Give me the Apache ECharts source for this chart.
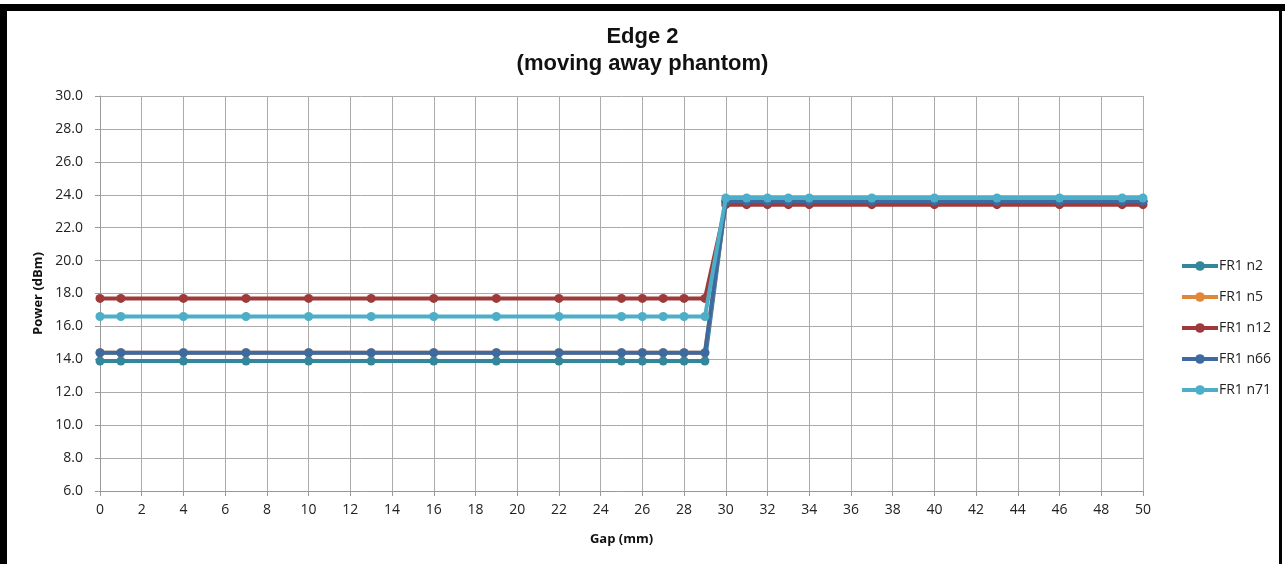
<!DOCTYPE html>
<html>
<head>
<meta charset="utf-8">
<script src="https://cdn.jsdelivr.net/npm/echarts@6/dist/echarts.min.js"></script>
<style>
html,body{margin:0;padding:0;background:#fff;}
#chart{width:1285px;height:564px;}
</style>
</head>
<body>
<div id="chart"></div>
<script>
const gaps = [0,1,4,7,10,13,16,19,22,25,26,27,28,29,30,31,32,33,34,37,40,43,46,49,50];
const seriesNames = ['FR1 n2','FR1 n5','FR1 n12','FR1 n66','FR1 n71'];
const n2  = [13.9,13.9,13.9,13.9,13.9,13.9,13.9,13.9,13.9,13.9,13.9,13.9,13.9,13.9,23.6,23.6,23.6,23.6,23.6,23.6,23.6,23.6,23.6,23.6,23.6];
const n5  = [14.4,14.4,14.4,14.4,14.4,14.4,14.4,14.4,14.4,14.4,14.4,14.4,14.4,14.4,23.6,23.6,23.6,23.6,23.6,23.6,23.6,23.6,23.6,23.6,23.6];
const n12 = [17.7,17.7,17.7,17.7,17.7,17.7,17.7,17.7,17.7,17.7,17.7,17.7,17.7,17.7,23.4,23.4,23.4,23.4,23.4,23.4,23.4,23.4,23.4,23.4,23.4];
const n66 = [14.4,14.4,14.4,14.4,14.4,14.4,14.4,14.4,14.4,14.4,14.4,14.4,14.4,14.4,23.6,23.6,23.6,23.6,23.6,23.6,23.6,23.6,23.6,23.6,23.6];
const n71 = [16.6,16.6,16.6,16.6,16.6,16.6,16.6,16.6,16.6,16.6,16.6,16.6,16.6,16.6,23.8,23.8,23.8,23.8,23.8,23.8,23.8,23.8,23.8,23.8,23.8];
const colors = ['#34869A','#E0873A','#9E3A3A','#3D6AA0','#4DAEC8'];
const allValues = [n2,n5,n12,n66,n71];

const chart = echarts.init(document.getElementById('chart'), null, {renderer:'canvas'});
const font = '"Liberation Sans", Arial, sans-serif';
const labelFont = '"Open Sans", "Noto Sans", sans-serif';

const option = {
  animation:false,
  backgroundColor:'#fff',
  color:colors,
  title:{
    text:'Edge 2\n(moving away phantom)',
    left:'center', top:18,
    textStyle:{fontFamily:font,fontSize:22,fontWeight:'bold',color:'#111',lineHeight:27}
  },
  legend:{
    orient:'vertical', left:1175, top:254,
    itemWidth:36, itemHeight:12, itemGap:17,
    lineStyle:{width:4},
    textStyle:{fontFamily:labelFont,fontSize:14,color:'#222',padding:[0,0,0,-4]},
    data:seriesNames
  },
  grid:{left:100,right:142,top:96,bottom:73,containLabel:false},
  xAxis:{
    type:'value', min:0, max:50, interval:2,
    name:'Gap (mm)', nameLocation:'middle', nameGap:42,
    nameTextStyle:{fontFamily:labelFont,fontSize:13,fontWeight:'bold',color:'#111'},
    axisLine:{lineStyle:{color:'#999',width:1}},
    axisTick:{show:true,length:5,lineStyle:{color:'#999'}},
    axisLabel:{fontFamily:labelFont,fontSize:14,color:'#222',margin:12},
    splitLine:{show:true,lineStyle:{color:'#ABABAB',width:1}}
  },
  yAxis:{
    type:'value', min:6, max:30, interval:2,
    name:'Power (dBm)', nameLocation:'middle', nameGap:54, nameRotate:90,
    nameTextStyle:{fontFamily:labelFont,fontSize:13,fontWeight:'bold',color:'#111'},
    axisLine:{show:true,lineStyle:{color:'#999',width:1}},
    axisTick:{show:true,length:5,lineStyle:{color:'#999'}},
    axisLabel:{fontFamily:labelFont,fontSize:14,color:'#222',margin:17,formatter:v=>v.toFixed(1)},
    splitLine:{show:true,lineStyle:{color:'#ABABAB',width:1}}
  },
  graphic:[
    {type:'rect',shape:{x:0,y:4,width:1285,height:7},style:{fill:'#000'},z:100},
    {type:'rect',shape:{x:0,y:4,width:7,height:560},style:{fill:'#000'},z:100},
    {type:'rect',shape:{x:1279,y:4,width:3,height:560},style:{fill:'#000'},z:100}
  ],
  series: seriesNames.map((name,i)=>({
    name, type:'line',
    data: gaps.map((g,j)=>[g, allValues[i][j]]),
    symbol:'circle', symbolSize:9,
    lineStyle:{width:4,color:colors[i]},
    itemStyle:{color:colors[i]},
    z:2+i
  }))
};
chart.setOption(option);
</script>
</body>
</html>
